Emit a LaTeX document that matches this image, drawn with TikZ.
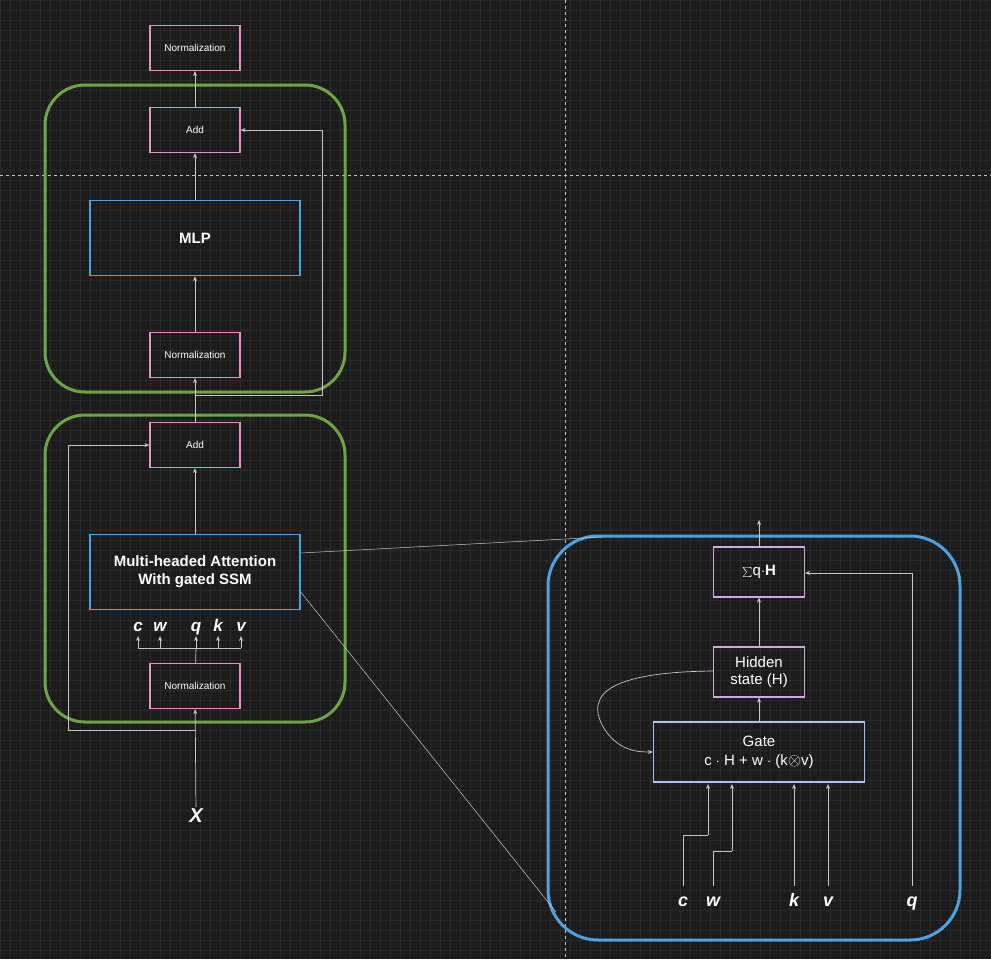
\documentclass[tikz,border=0pt]{standalone}
\usepackage{fontspec}
\setmainfont{Liberation Sans}
\usetikzlibrary{arrows.meta}
\definecolor{bg}{HTML}{1C1C1C}
\definecolor{gridc}{HTML}{2A2A2A}
\definecolor{grn}{HTML}{6DA544}
\definecolor{blu}{HTML}{4BA3E3}
\definecolor{pnk}{HTML}{E88FC8}
\definecolor{vio}{HTML}{D5A6E6}
\definecolor{lblu}{HTML}{A4C2F4}
\definecolor{ln}{HTML}{C8C8C8}
\begin{document}
\begin{tikzpicture}[x=1pt,y=-1pt,
  box/.style={draw=pnk,line width=1.2pt,minimum width=90pt,minimum height=45pt,text=white,font=\fontsize{10}{12}\selectfont,inner sep=0pt},
  big/.style={draw=blu,line width=1.5pt,minimum width=210pt,minimum height=75pt,text=white,font=\bfseries\fontsize{15}{18}\selectfont,align=center},
  grp/.style={line width=3pt,rounded corners=40pt},
  arr/.style={draw=ln,line width=0.7pt,-{Stealth[length=5pt,width=4pt]}},
  lin/.style={draw=ln,line width=0.7pt},
  var/.style={text=white,font=\bfseries\itshape\fontsize{17}{18}\selectfont,inner sep=1pt,anchor=base},
  rvar/.style={var,font=\bfseries\itshape\fontsize{18}{20}\selectfont}]
\fill[bg] (0,0) rectangle (991,959);
\useasboundingbox (0,0) rectangle (991,959);
\foreach \i in {0,10,...,990} {\draw[gridc,line width=0.4pt] (\i,0) -- (\i,959);}
\foreach \i in {0,10,...,950} {\draw[gridc,line width=0.4pt] (0,\i) -- (991,\i);}
\draw[gray!45,dashed,line width=0.4pt] (0,175) -- (991,175);
\draw[gray!45,dashed,line width=0.4pt] (565,0) -- (565,959);
% groups
\draw[grp,draw=grn] (45,85) rectangle (345,392);
\draw[grp,draw=grn] (45,415) rectangle (345,722);
\draw[grp,draw=blu,rounded corners=50pt] (548,536) rectangle (960,940);
% left nodes
\node[box] (n3) at (195,48) {Normalization};
\node[box] (a2) at (195,130) {Add};
\node[big] (mlp) at (195,238) {MLP};
\node[box] (n2) at (195,355) {Normalization};
\node[box] (a1) at (195,445) {Add};
\node[big] (mha) at (195,572) {Multi-headed Attention\\With gated SSM};
\node[box] (n1) at (195,686) {Normalization};
\node[var,font=\bfseries\itshape\fontsize{20}{22}\selectfont] (X) at (196,822) {X};
\node[var] (lc) at (138,631) {c};
\node[var] (lw) at (160,631) {w};
\node[var] (lq) at (196,631) {q};
\node[var] (lk) at (218,631) {k};
\node[var] (lv) at (241,631) {v};
\coordinate (br) at (196,648);
\coordinate (r1) at (196,730);
\coordinate (r2) at (196,395);
% left connectors
\draw[arr] (X) -- (n1);
\draw[lin] (r1) -- (68,730) -- (68,445);
\draw[arr] (68,445) -- (a1.west);
\draw[lin] (n1) -- (br);
\draw[lin] (138,648) -- (241,648);
\foreach \n/\x in {lc/138,lw/160,lq/196,lk/218,lv/241} {\draw[arr] (\x,648) -- (\x,636);}
\draw[arr] (mha) -- (a1);
\draw[arr] (a1) -- (n2);
\draw[lin] (r2) -- (322,395) -- (322,130);
\draw[arr] (322,130) -- (a2.east);
\draw[arr] (n2) -- (mlp);
\draw[arr] (mlp) -- (a2);
\draw[arr] (a2) -- (n3);
% zoom lines
\draw[lin,line width=0.5pt] (mha.east |- 0,553) -- (603,537);
\draw[lin,line width=0.5pt] (mha.east |- 0,592) -- (556,912);
% right panel
\node[box,draw=vio,font=\fontsize{15}{17}\selectfont,minimum width=91pt,minimum height=50pt] (sum) at (759,572) {{\fontsize{15}{17}\selectfont$\textstyle\sum$}q$\cdot$\textbf{H}};
\node[box,draw=vio,font=\fontsize{15}{17}\selectfont,minimum width=91pt,minimum height=50pt,align=center] (hid) at (759,672) {Hidden\\state (H)};
\node[box,draw=lblu,font=\fontsize{15}{19}\selectfont,minimum width=211pt,minimum height=60pt,align=center] (gate) at (759,752) {Gate\\c $\cdot$ H + w $\cdot$ (k{\fontsize{19}{19}\selectfont$\otimes$}v)};
\node[rvar] (rc) at (683,906) {c};
\node[rvar] (rw) at (713,906) {w};
\node[rvar] (rk) at (794,906) {k};
\node[rvar] (rv) at (828,906) {v};
\node[rvar] (rq) at (912,906) {q};
\coordinate (out) at (759,520);
\draw[arr] (sum) -- (out);
\draw[arr] (hid) -- (sum);
\draw[arr] (gate) -- (hid);
\draw[lin] (912,886) -- (912,573);
\draw[arr] (912,573) -- (sum.east |- 0,573);
\draw[lin] (683,886) -- (683,835) -- (708,835);
\draw[arr] (708,835) -- (708,784);
\draw[lin] (713,886) -- (713,851) -- (732,851);
\draw[arr] (732,851) -- (732,784);
\draw[arr] (794,886) -- (794,784);
\draw[arr] (828,886) -- (828,784);
\draw[arr] (hid.west |- 0,671) .. controls (620,672) and (580,690) .. (605,730) .. controls (620,752) and (640,752) .. (gate.west |- 0,752);
\end{tikzpicture}
\end{document}
